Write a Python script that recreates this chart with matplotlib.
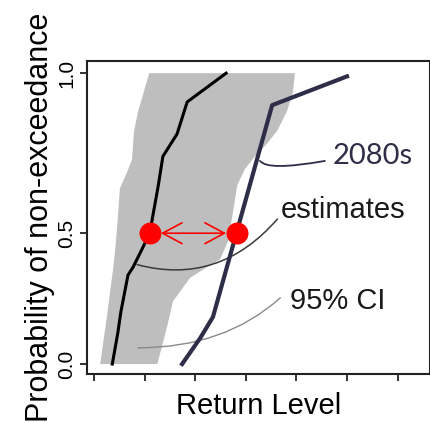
import matplotlib
matplotlib.use('Agg')
import matplotlib.pyplot as plt
import numpy as np

# cumulative curves: return level (x) vs probability of non-exceedance (y)
est_x = [0.36, 0.47, 0.53, 0.67, 0.77, 0.95, 1.10, 1.27, 1.36, 1.64, 1.84, 2.61]
est_y = [0.00, 0.12, 0.20, 0.34, 0.37, 0.44, 0.50, 0.65, 0.74, 0.81, 0.91, 1.00]

fut_x = [1.74, 2.10, 2.35, 3.52, 5.00]
fut_y = [0.00, 0.10, 0.18, 0.90, 0.99]

# 95% confidence band, left edge (top -> bottom) and right edge (bottom -> top)
ci_lo_x = [1.09, 0.87, 0.79, 0.75, 0.65, 0.51, 0.47, 0.42, 0.38, 0.26, 0.12]
ci_lo_y = [1.00, 0.88, 0.82, 0.73, 0.69, 0.64, 0.55, 0.44, 0.37, 0.19, 0.00]
ci_hi_x = [1.25, 1.44, 1.56, 1.90, 2.23, 2.49, 2.65, 2.75, 2.83, 2.98, 3.18, 3.42, 3.62, 3.81, 3.93, 3.97]
ci_hi_y = [0.00, 0.14, 0.24, 0.33, 0.37, 0.40, 0.47, 0.57, 0.65, 0.70, 0.74, 0.78, 0.82, 0.88, 0.94, 1.00]

# return levels at p = 0.5 for both curves
p_mid = 0.5
rl_now = 1.10
rl_fut = 2.83

x_ticks = [0, 1, 2, 3, 4, 5, 6]
y_ticks = [0.0, 0.5, 1.0]
y_ticklabels = ['0.0', '0.5', '1.0']

NAVY = '#2e2e48'


# y axis is stretched above 0.5
def fwd(y):
    y = np.asarray(y, dtype=float)
    return np.where(y <= 0.5, y * 260.0, 130.0 + (y - 0.5) * 318.0)


def inv(v):
    v = np.asarray(v, dtype=float)
    return np.where(v <= 130.0, v / 260.0, 0.5 + (v - 130.0) / 318.0)


fig = plt.figure(figsize=(4.31, 4.22), dpi=100)
ax = fig.add_axes([87 / 431, 1 - 374 / 422, 343 / 431, 313 / 422])
ax.set_yscale('function', functions=(fwd, inv))

band_x = ci_lo_x + ci_hi_x
band_y = ci_lo_y + ci_hi_y
ax.fill(band_x, band_y, color='#bebebe', lw=0, zorder=1)

# leader lines for the annotations
ax.annotate('estimates', xy=(0.85, 0.38), xytext=(3.68, 0.547),
            fontsize=21, family='Liberation Sans', color='#1a1a1a',
            va='baseline', ha='left',
            arrowprops=dict(arrowstyle='-', color='#3a3a3a', lw=1.1,
                            shrinkA=0, shrinkB=0,
                            connectionstyle='angle3,angleA=50,angleB=-15',
                            relpos=(0, 0.3)),
            zorder=3)
ax.annotate('95% CI', xy=(0.87, 0.062), xytext=(3.87, 0.212),
            fontsize=21, family='Liberation Sans', color='#1a1a1a',
            va='baseline', ha='left',
            arrowprops=dict(arrowstyle='-', color='#8a8a8a', lw=1.0,
                            shrinkA=0, shrinkB=0,
                            connectionstyle='angle3,angleA=42,angleB=0',
                            relpos=(-0.1, 0.6)),
            zorder=3)
ax.annotate('2080s', xy=(3.28, 0.726), xytext=(4.72, 0.717),
            fontsize=21, family='Lato', color=NAVY,
            va='baseline', ha='left',
            arrowprops=dict(arrowstyle='-', color=NAVY, lw=1.3,
                            shrinkA=0, shrinkB=0,
                            connectionstyle='angle3,angleA=10,angleB=-55',
                            relpos=(-0.1, 0.3)),
            zorder=3)

ax.plot(est_x, est_y, color='black', lw=2.2, zorder=4)
ax.plot(fut_x, fut_y, color=NAVY, lw=3.0, zorder=4)

ax.annotate('', xy=(rl_fut, p_mid), xytext=(rl_now, p_mid),
            arrowprops=dict(arrowstyle='<->,head_length=1.4,head_width=0.75',
                            color='red', lw=1.2, shrinkA=8, shrinkB=8),
            zorder=5)
ax.scatter([rl_now, rl_fut], [p_mid, p_mid], s=250, color='red',
           lw=0, zorder=6)

ax.set_xlim(-0.14, 6.64)
ax.set_ylim(-0.038, 1.038)
ax.set_xticks(x_ticks)
ax.set_xticklabels([])
ax.set_yticks(y_ticks)
ax.set_yticklabels(y_ticklabels, rotation=90, va='center',
                   fontsize=15, family='Liberation Sans')
ax.minorticks_off()
ax.tick_params(direction='out', length=5, width=1.3, color='#222222', pad=3)
for s in ax.spines.values():
    s.set_linewidth(1.5)
    s.set_color('#222222')

ax.set_ylabel('Probability of non-exceedance', fontsize=22,
              family='Liberation Sans')
ax.yaxis.set_label_coords(-0.093, 0.5)
ax.set_xlabel('Return Level', fontsize=21, family='Liberation Sans')
ax.xaxis.set_label_coords(0.5, -0.058)

fig.savefig('out.png', dpi=100)
